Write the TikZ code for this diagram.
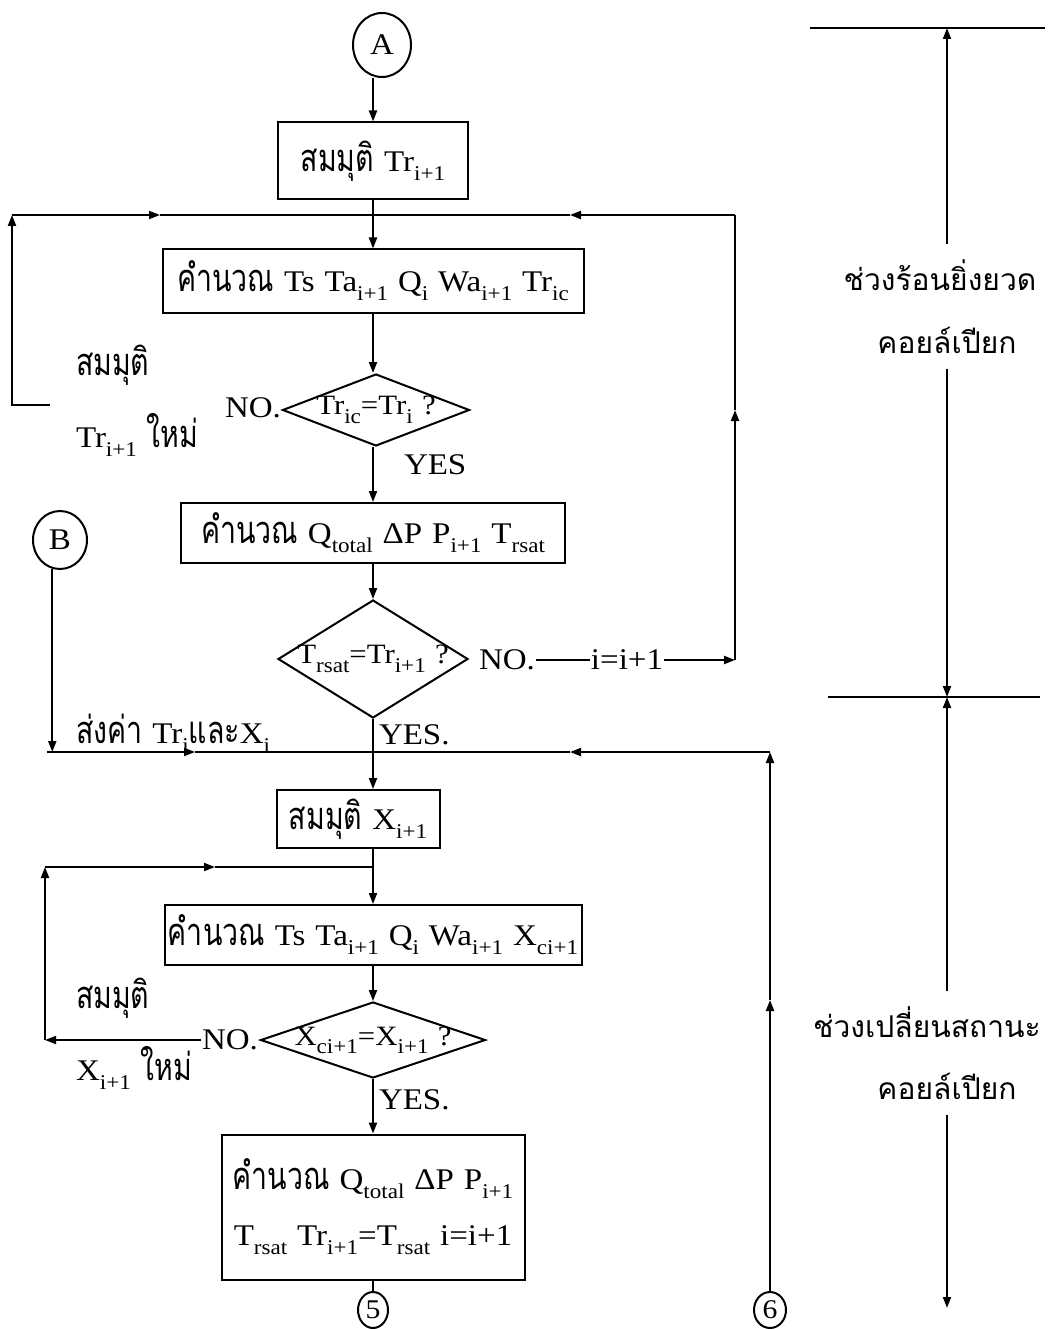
\documentclass[tikz,border=0pt]{standalone}
\usepackage{fontspec}
\setmainfont{Liberation Serif}[WordSpace=1.2,FakeStretch=1.1]
\newfontfamily\thai[Script=Thai,FakeStretch=0.75]{Loma}
\newfontfamily\thaiwide[Script=Thai]{Loma}
\usetikzlibrary{shapes.geometric,arrows.meta}
\newcommand\sub[1]{\raisebox{-0.65ex}{\fontsize{21}{21}\selectfont #1}}
\newcommand\thw[1]{{\thai\fontsize{38}{40}\selectfont #1}}
\tikzset{
  >={Triangle[length=11pt,width=8pt]},
  every path/.style={line width=2pt},
  txt/.style={inner sep=0pt,font=\fontsize{30}{34}\selectfont},
  box/.style={txt,draw,rectangle},
  dia/.style={draw,diamond,inner sep=0pt},
  qtxt/.style={inner sep=0pt,font=\fontsize{28}{30}\selectfont},
  conn/.style={txt,draw,ellipse,inner sep=0pt},
  side/.style={inner sep=0pt,font=\thaiwide\fontsize{30}{32}\selectfont},
}
\begin{document}
\begin{tikzpicture}[x=1pt,y=-1pt]
  \useasboundingbox (0,0) rectangle (1048,1329);
  % hot section
  \node[conn,minimum width=58pt,minimum height=64pt] (A) at (382,45) {A};
  \node[box,minimum width=190pt,minimum height=77pt] (box1) at (373,161) {\thw{สมมุติ} Tr\sub{i+1}};
  \node[box,minimum width=421pt,minimum height=63pt] (box2) at (373,281) {\thw{คำนวณ} Ts Ta\sub{i+1} Q\sub{i} Wa\sub{i+1} Tr\sub{ic}};
  \node[dia,minimum width=187pt,minimum height=72pt] (dia1) at (376,410) {};
  \node[qtxt] at (dia1) {Tr\sub{ic}=Tr\sub{i} ?};
  \node[txt,anchor=east] (no1) at (282,408) {NO.};
  \node[txt,anchor=west] (yes1) at (403,465) {YES};
  \node[txt,anchor=west] (lb1) at (75,365) {\thw{สมมุติ}};
  \node[txt,anchor=west] (lb2) at (75,435) {Tr\sub{i+1} \thw{ใหม่}};
  \node[box,minimum width=384pt,minimum height=60pt] (box3) at (373,533) {\thw{คำนวณ} Q\sub{total} ΔP P\sub{i+1} T\sub{rsat}};
  \node[dia,minimum width=190pt,minimum height=118pt] (dia2) at (373,659) {};
  \node[qtxt] at (dia2) {T\sub{rsat}=Tr\sub{i+1} ?};
  \node[txt,anchor=west] (no2) at (478,660) {NO.};
  \node[txt] (inc) at (627,660) {i=i+1};
  \node[conn,minimum width=54pt,minimum height=58pt] (B) at (60,540) {B};
  \node[txt,anchor=west] (send) at (75,733) {\thw{ส่งค่า} Tr\sub{i}\thw{และ}X\sub{i}};
  \node[txt,anchor=west] (yes2) at (378,735) {YES.};
  \coordinate (c1) at (12,405);
  \coordinate (c2) at (12,215);
  \coordinate (m1) at (160,215);
  \coordinate (c3) at (735,215);
  \coordinate (m2) at (570,215);
  \coordinate (m3) at (735,410);
  \coordinate (c4) at (735,660);
  % loops of the hot section
  \draw[->] (A.south -| box1.north) -- (box1.north);
  \draw[->] (box1.south) -- (box2.north);
  \draw[->] (box2.south) -- (box2.south |- dia1.north);
  \draw[->] (box2.south |- dia1.south) -- (box3.north);
  \draw[->] (box3.south) -- (dia2.north);
  \draw[->] (50,405) -- (c1) -- (c2);
  \draw[->] (c2) -- (m1);
  \draw (m1) -- (box1.south |- m1);
  \draw (no2.east) -- (inc.west);
  \draw[->] (inc.east) -- (c4);
  \draw[->] (c4) -- (m3);
  \draw (m3) -- (c3);
  \draw[->] (c3) -- (m2);
  \draw (m2) -- (box1.south |- m2);
  % wet section
  \node[box,minimum width=163pt,minimum height=58pt] (box4) at (358,819) {\thw{สมมุติ} X\sub{i+1}};
  \node[box,minimum width=417pt,minimum height=60pt] (box5) at (373,935) {\thw{คำนวณ} Ts Ta\sub{i+1} Q\sub{i} Wa\sub{i+1} X\sub{ci+1}};
  \node[dia,minimum width=225pt,minimum height=76pt] (dia3) at (373,1040) {};
  \node[qtxt] at (dia3) {X\sub{ci+1}=X\sub{i+1} ?};
  \node[txt,anchor=east] (no3) at (259,1040) {NO.};
  \node[txt,anchor=west] (lb3) at (75,998) {\thw{สมมุติ}};
  \node[txt,anchor=west] (lb4) at (75,1068) {X\sub{i+1} \thw{ใหม่}};
  \node[txt,anchor=west] (yes3) at (378,1100) {YES.};
  \node[box,minimum width=303pt,minimum height=145pt,align=center] (box6) at (373,1207)
    {\thw{คำนวณ} Q\sub{total} ΔP P\sub{i+1}\\[22pt] T\sub{rsat} Tr\sub{i+1}=T\sub{rsat} i=i+1};
  \node[conn,minimum width=30pt,minimum height=36pt,font=\fontsize{27}{28}\selectfont] (n5) at (373,1310) {5};
  \node[conn,minimum width=32pt,minimum height=36pt,font=\fontsize{27}{28}\selectfont] (n6) at (770,1310) {6};
  \coordinate (d1) at (47,752);
  \coordinate (m4) at (195,752);
  \coordinate (c5) at (770,752);
  \coordinate (m5) at (570,752);
  \coordinate (m6) at (770,1000);
  \coordinate (c6) at (45,1040);
  \coordinate (c7) at (45,867);
  \coordinate (m7) at (215,867);
  \draw[->] (B.255) -- (B.255 |- d1);
  \draw[->] (d1) -- (m4);
  \draw (m4) -- (dia2.south |- m4);
  \draw[->] (n6.north) -- (m6);
  \draw[->] (m6) -- (c5);
  \draw[->] (c5) -- (m5);
  \draw (m5) -- (dia2.south |- m5);
  \draw[->] (dia2.south) -- (dia2.south |- box4.north);
  \draw (dia2.south |- box4.south) -- (dia2.south |- c7);
  \draw[->] (dia2.south |- c7) -- (box5.north);
  \draw[->] (no3.west) -- (c6);
  \draw[->] (c6) -- (c7);
  \draw[->] (c7) -- (m7);
  \draw (m7) -- (dia2.south |- c7);
  \draw[->] (box5.south) -- (dia3.north);
  \draw[->] (dia3.south) -- (box6.north);
  \draw (box6.south) -- (n5.north);
  % section marks on the right
  \node[side] (s1) at (940,275) {ช่วงร้อนยิ่งยวด};
  \node[side] (s2) at (947,340) {คอยล์เปียก};
  \node[side] (s3) at (927,1022) {ช่วงเปลี่ยนสถานะ};
  \node[side] (s4) at (947,1086) {คอยล์เปียก};
  \coordinate (r1) at (947,28);
  \coordinate (r2) at (947,697);
  \coordinate (r3) at (947,1308);
  \draw (810,28) -- (1045,28);
  \draw (828,697) -- (1040,697);
  \draw[->] (s1.north -| r1) ++(0,-15) -- (r1);
  \draw[->] (s2.south -| r2) ++(0,15) -- (r2);
  \draw[->] (s3.north -| r2) ++(0,-15) -- (r2);
  \draw[->] (s4.south -| r3) ++(0,15) -- (r3);
\end{tikzpicture}
\end{document}
